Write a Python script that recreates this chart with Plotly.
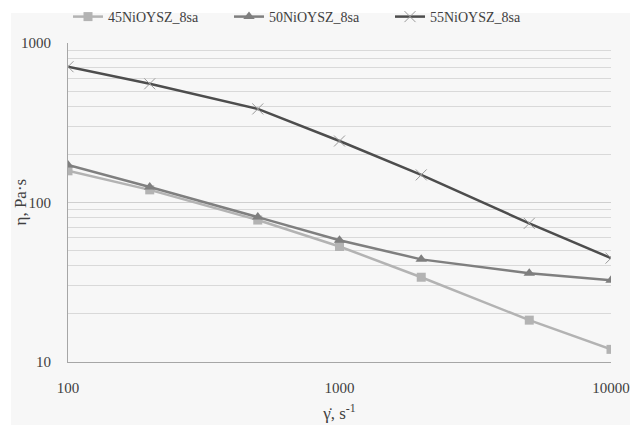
import plotly.graph_objects as go

shear_rate = [100, 200, 500, 1000, 2000, 5000, 10000]
visc_45 = [158, 120, 77.6, 53, 34, 18.3, 12.0]
visc_50 = [172, 125, 81, 58, 44, 36, 32.6]
visc_55 = [710, 555, 386, 243, 149, 74, 44.8]
series_names = ["45NiOYSZ_8sa", "50NiOYSZ_8sa", "55NiOYSZ_8sa"]
y_ticks = [10, 100, 1000]
x_ticks = [100, 1000, 10000]
x_title = "γ̇, s<sup>-1</sup>"
y_title = "η, Pa·s"

TXT = "#404040"
FONT = "'Liberation Serif', 'Times New Roman', serif"

fig = go.Figure()
fig.add_trace(go.Scatter(
    x=shear_rate, y=visc_45, name=series_names[0], mode="lines+markers",
    line=dict(color="#b3b3b3", width=2.5),
    marker=dict(symbol="square", size=9, color="#b3b3b3")))
fig.add_trace(go.Scatter(
    x=shear_rate, y=visc_50, name=series_names[1], mode="lines+markers",
    line=dict(color="#7f7f7f", width=2.5),
    marker=dict(symbol="triangle-up", size=10, color="#7f7f7f")))
fig.add_trace(go.Scatter(
    x=shear_rate, y=visc_55, name=series_names[2], mode="lines+markers",
    line=dict(color="#4d4d4d", width=2.5),
    marker=dict(symbol="x-thin", size=11, color="#9a9a9a",
                line=dict(color="#9a9a9a", width=1))))

W, H = 630, 425
L, R, T, B = 68, 19, 43, 63
pw, ph = W - L - R, H - T - B

fig.add_shape(type="rect", xref="paper", yref="paper", layer="below",
              x0=(11 - L) / pw, x1=(W - L) / pw,
              y0=(H - B - H) / ph, y1=(H - B - 13) / ph,
              fillcolor="#f7f7f7", line=dict(width=0))

fig.add_annotation(text=y_title, xref="paper", yref="paper",
                   x=(20 - L) / pw, y=0.5, xanchor="center", yanchor="middle",
                   textangle=-90, showarrow=False,
                   font=dict(size=17, family=FONT, color=TXT))

fig.update_layout(
    width=W, height=H,
    margin=dict(l=L, r=R, t=T, b=B, autoexpand=False),
    paper_bgcolor="white", plot_bgcolor="rgba(0,0,0,0)",
    font=dict(family=FONT, color=TXT, size=15),
    showlegend=True,
    legend=dict(orientation="h", xref="container", x=68 / W, xanchor="left",
                yref="container", y=1 - 17 / H, yanchor="middle",
                font=dict(size=14, family=FONT, color=TXT),
                entrywidth=116, entrywidthmode="pixels",
                bgcolor="rgba(0,0,0,0)", itemwidth=30),
)
fig.update_xaxes(type="log", range=[2, 4], tickvals=x_ticks,
                 ticktext=[str(v) for v in x_ticks],
                 tickfont=dict(size=15), ticklabeloverflow="allow",
                 showgrid=False, showline=True, linecolor="#a6a6a6", linewidth=1,
                 ticks="", ticklabelstandoff=12, zeroline=False,
                 title=dict(text=x_title, font=dict(size=17), standoff=12))
fig.update_yaxes(type="log", range=[1, 3], tickvals=y_ticks,
                 ticktext=[str(v) for v in y_ticks],
                 tickfont=dict(size=15),
                 showgrid=True, gridcolor="#cfcfcf", gridwidth=1,
                 minor=dict(showgrid=True, gridcolor="#d9d9d9", gridwidth=1,
                            tickvals=[a * 10 ** b for b in (1, 2) for a in range(2, 10)]),
                 showline=True, linecolor="#a6a6a6", linewidth=1,
                 ticks="", ticklabelstandoff=13, zeroline=False)

fig.write_html(
    "out.html",
    config={"displayModeBar": False},
    post_script="document.body.style.margin='0';document.body.style.overflow='hidden';",
)
